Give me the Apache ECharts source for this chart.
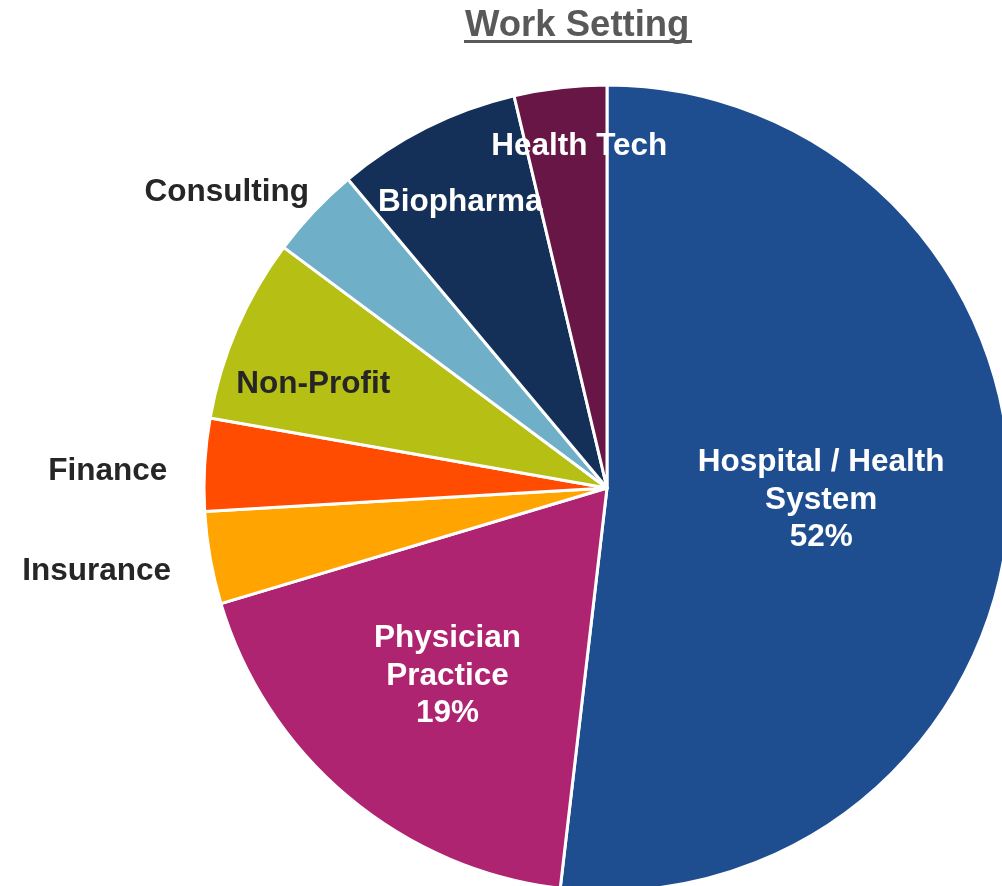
<!DOCTYPE html>
<html>
<head>
<meta charset="utf-8">
<script src="https://cdn.jsdelivr.net/npm/echarts@6/dist/echarts.min.js"></script>
<style>
  html, body { margin: 0; padding: 0; background: #fff; }
  #chart { width: 1002px; height: 886px; }
</style>
</head>
<body>
<div id="chart"></div>
<script>
const categories = [
  'Hospital / Health\nSystem',
  'Physician\nPractice',
  'Insurance',
  'Finance',
  'Non-Profit',
  'Consulting',
  'Biopharma',
  'Health Tech'
];
const counts = [14, 5, 1, 1, 2, 1, 2, 1];
const showPercent = [true, true, false, false, false, false, false, false];

const sliceColors = ['#1f4e90', '#ae2470', '#ffa400', '#ff4c00', '#b5bf14', '#6fb0c8', '#142f58', '#681645'];
const labelColors = ['#fff', '#fff', '#262626', '#262626', '#262626', '#262626', '#fff', '#fff'];
// nudges from the default "inside" spot (half radius, mid angle)
const labelOffsets = [[10, 0], [-28, 31.5], [-309, 47.5], [-295, -5], [-106, -23], [-231.5, -155.5], [-55, -103], [-4, -139]];

const total = counts.reduce((a, b) => a + b, 0);

const chart = echarts.init(document.getElementById('chart'));

const option = {
  animation: false,
  title: {
    text: 'Work Setting',
    left: 465,
    top: 7,
    padding: 0,
    textStyle: {
      fontFamily: 'Liberation Sans',
      fontWeight: 'bold',
      fontSize: 36.5,
      color: '#595959'
    }
  },
  graphic: [
    {
      type: 'rect',
      shape: { x: 464, y: 40, width: 228, height: 3 },
      style: { fill: '#595959' }
    }
  ],
  series: [
    {
      type: 'pie',
      center: [607, 488],
      radius: [0, 403],
      startAngle: 90,
      clockwise: true,
      avoidLabelOverlap: false,
      itemStyle: { borderColor: '#fff', borderWidth: 3 },
      emphasis: { disabled: true },
      labelLine: { show: false },
      label: {
        position: 'inside',
        fontFamily: 'Liberation Sans',
        fontWeight: 'bold',
        fontSize: 31.5,
        lineHeight: 37.5,
        align: 'center',
        formatter: p => showPercent[p.dataIndex]
          ? p.name + '\n' + Math.round(p.value / total * 100) + '%'
          : p.name
      },
      data: categories.map((name, i) => ({
        name,
        value: counts[i],
        itemStyle: { color: sliceColors[i] },
        label: { color: labelColors[i], offset: labelOffsets[i] }
      }))
    }
  ]
};

chart.setOption(option);
</script>
</body>
</html>
